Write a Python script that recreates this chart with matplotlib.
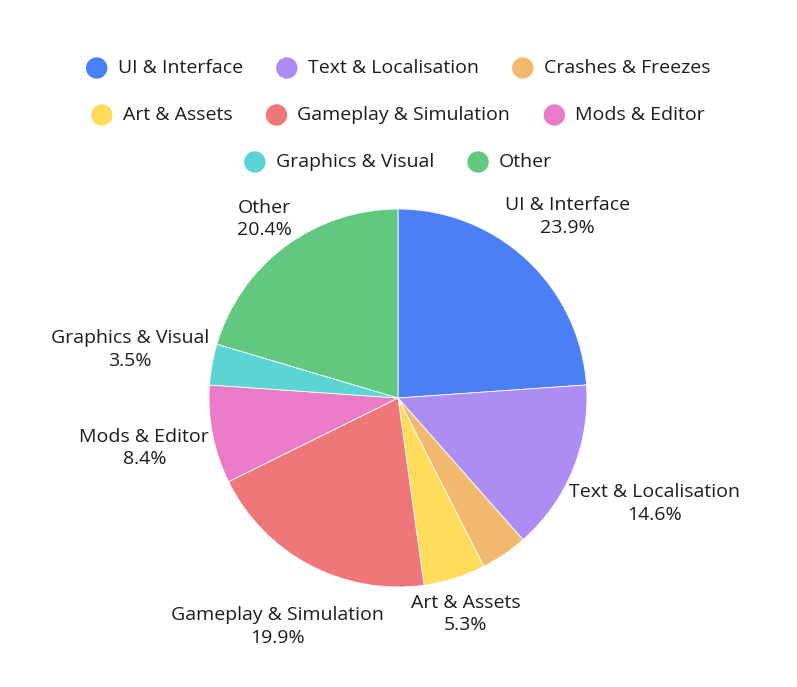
import matplotlib
matplotlib.use("Agg")
import matplotlib.pyplot as plt
from matplotlib.patches import Circle
import numpy as np

# data (clockwise from 12 o'clock)
categories = ["UI & Interface", "Text & Localisation", "Crashes & Freezes",
              "Art & Assets", "Gameplay & Simulation", "Mods & Editor",
              "Graphics & Visual", "Other"]
shares = [23.9, 14.6, 4.0, 5.3, 19.9, 8.4, 3.5, 20.4]
colors = ["#4b7ff5", "#ad8cf4", "#f0b96e", "#fedc5b", "#f07779",
          "#ea7bc7", "#5bd5d3", "#62c880"]
hidden_labels = {"Crashes & Freezes"}

plt.rcParams['font.family'] = ['Open Sans', 'DejaVu Sans']
W, H = 797, 687
fig = plt.figure(figsize=(W / 100, H / 100), dpi=100)

# pie geometry in pixels
cx, cy, R = 398, 398, 189
pax = fig.add_axes([(cx - R) / W, (H - cy - R) / H, 2 * R / W, 2 * R / H])
pax.pie(shares, colors=colors, startangle=90, counterclock=False, radius=1,
        wedgeprops=dict(edgecolor="white", linewidth=0.6))
pax.set_xlim(-1, 1)
pax.set_ylim(-1, 1)
pax.axis("off")

# overlay axes in pixel coordinates (y down)
ov = fig.add_axes([0, 0, 1, 1], zorder=5)
ov.set_xlim(0, W)
ov.set_ylim(H, 0)
ov.axis("off")
ov.patch.set_alpha(0)

fs = 14
txt_col = "#1c1c1c"
fig.canvas.draw()
renderer = fig.canvas.get_renderer()

# slice labels
total = sum(shares)
cum = 0
for name, val in zip(categories, shares):
    mid = (cum + val / 2) / total * 2 * np.pi
    cum += val
    if name in hidden_labels:
        continue
    sx, sy = np.sin(mid), -np.cos(mid)
    t = ov.text(0, 0, f"{name}\n{val:.1f}%", ha="center", va="center",
                fontsize=fs, color=txt_col, linespacing=1.3, multialignment="center")
    bb = t.get_window_extent(renderer)
    w, h = bb.width, bb.height
    d = R + 2 + abs(w / 2 * sx) + abs(h / 2 * sy)
    t.set_position((cx + d * sx, cy + d * sy))

# legend, row-wise and centered
rows = [categories[0:3], categories[3:6], categories[6:8]]
row_y = [68, 115, 162]
dot_r = 10
gap_dot = 11
gap_item = 34
for row, y in zip(rows, row_y):
    widths = []
    for name in row:
        tt = ov.text(0, 0, name, fontsize=fs)
        widths.append(tt.get_window_extent(renderer).width)
        tt.remove()
    item_w = [2 * dot_r + gap_dot + w for w in widths]
    total_w = sum(item_w) + gap_item * (len(row) - 1)
    x = W / 2 - total_w / 2
    for name, iw in zip(row, item_w):
        c = colors[categories.index(name)]
        ov.add_patch(Circle((x + dot_r, y), dot_r, color=c))
        ov.text(x + 2 * dot_r + gap_dot, y, name, fontsize=fs, color=txt_col,
                ha="left", va="center")
        x += iw + gap_item

fig.savefig("out.png", dpi=100, facecolor="white")
